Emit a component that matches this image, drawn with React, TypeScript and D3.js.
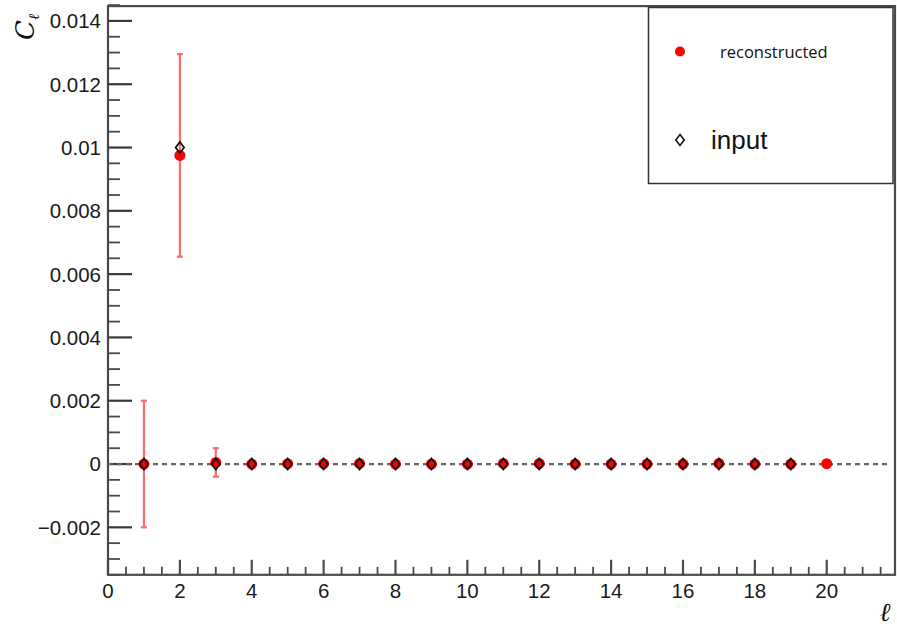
import React from "react";
import * as d3 from "d3";

const ells = [1, 2, 3, 4, 5, 6, 7, 8, 9, 10, 11, 12, 13, 14, 15, 16, 17, 18, 19, 20];
const recoValues = [0, 0.00975, 0.00005, 0, 0.00001, 0.00001, 0.00002, 0, 0, 0, 0.00002, 0.00002, 0, 0, 0, 0, 0.00002, 0, 0, 0.00001];
const recoErrors = [0.002, 0.0032, 0.00045, 0, 0, 0, 0, 0, 0, 0, 0, 0, 0, 0, 0, 0, 0, 0, 0, 0];
const inputEll = [1, 2, 3, 4, 5, 6, 7, 8, 9, 10, 11, 12, 13, 14, 15, 16, 17, 18, 19];
const inputValues = [0, 0.01, 0, 0, 0, 0, 0, 0, 0, 0, 0, 0, 0, 0, 0, 0, 0, 0, 0];
const xMajorTicks = [0, 2, 4, 6, 8, 10, 12, 14, 16, 18, 20];
const yMajorTicks = [-0.002, 0, 0.002, 0.004, 0.006, 0.008, 0.01, 0.012, 0.014];
const yTickLabels = ["\u22120.002", "0", "0.002", "0.004", "0.006", "0.008", "0.01", "0.012", "0.014"];
const legendLabels = ["reconstructed", "input"];

const W = 897;
const H = 629;
const L = 108;
const R = 895;
const T = 5.1;
const B = 574.8;

export default function App() {
  const x = d3.scaleLinear().domain([0, 21.9]).range([L, R]);
  const y = d3.scaleLinear().domain([-0.0035, 0.0145]).range([B, T]);

  const xMinor = d3.range(0, 21.9, 0.5).filter((v) => Math.abs(v % 2) > 1e-9);
  const yMinor = d3.range(-0.0035, 0.01451, 0.0005).filter(
    (v) => !yMajorTicks.some((m) => Math.abs(m - v) < 1e-9)
  );
  const axisColor = "#4a4a4a";
  const font = "'Liberation Sans', Arial, Helvetica, sans-serif";
  const errColor = "#ff6a6a";

  const diamond = (cx: number, cy: number) =>
    `M${cx},${cy - 5.5} L${cx + 4.2},${cy} L${cx},${cy + 5.5} L${cx - 4.2},${cy} Z`;

  return (
    <svg
      width={W}
      height={H}
      style={{ position: "absolute", left: 0, top: 0, background: "#fff" }}
    >
      <rect x={0} y={0} width={W} height={H} fill="#fff" />
      {/* frame */}
      <rect x={L} y={T + 1} width={R - L} height={B - T - 1} fill="none" stroke={axisColor} strokeWidth={2.2} />

      {/* y ticks */}
      {yMajorTicks.map((v) => (
        <line key={"ym" + v} x1={L} x2={L + 24} y1={y(v)} y2={y(v)} stroke="#3a3a3a" strokeWidth={2.2} />
      ))}
      {yMinor.map((v, i) => (
        <line key={"yn" + i} x1={L} x2={L + 12} y1={y(v)} y2={y(v)} stroke={axisColor} strokeWidth={1.8} />
      ))}
      {yMajorTicks.map((v, i) => (
        <text
          key={"yl" + v}
          x={101}
          y={y(v)}
          dy="0.36em"
          textAnchor="end"
          fontFamily={font}
          fontSize={20.5}
          fill="#1a1a1a"
        >
          {yTickLabels[i]}
        </text>
      ))}

      {/* x ticks */}
      {xMajorTicks.map((v) => (
        <line key={"xm" + v} x1={x(v)} x2={x(v)} y1={B} y2={B - 15} stroke={axisColor} strokeWidth={2.2} />
      ))}
      {xMinor.map((v, i) => (
        <line key={"xn" + i} x1={x(v)} x2={x(v)} y1={B} y2={B - 8} stroke={axisColor} strokeWidth={1.8} />
      ))}
      {xMajorTicks.map((v) => (
        <text
          key={"xl" + v}
          x={x(v)}
          y={598}
          textAnchor="middle"
          fontFamily={font}
          fontSize={20.5}
          fill="#1a1a1a"
        >
          {v}
        </text>
      ))}

      {/* axis titles */}
      <text
        transform="translate(34,40) rotate(-90)"
        fontFamily="'DejaVu Serif', serif"
        fontStyle="italic"
        fontSize={26}
        fill="#111"
      >
        C
        <tspan fontSize={15} dy={5}>
          ℓ
        </tspan>
      </text>
      <text
        x={885}
        y={621}
        textAnchor="middle"
        fontFamily="'DejaVu Serif', serif"
        fontStyle="italic"
        fontSize={26}
        fill="#111"
      >
        ℓ
      </text>

      {/* zero line */}
      <line
        x1={L}
        x2={889}
        y1={y(0)}
        y2={y(0)}
        stroke="#666"
        strokeWidth={2.2}
        strokeDasharray="5,4"
      />

      {/* error bars */}
      {ells.map((l, i) =>
        recoErrors[i] > 0 ? (
          <g key={"e" + l}>
            <line
              x1={x(l)}
              x2={x(l)}
              y1={y(recoValues[i] - recoErrors[i])}
              y2={y(recoValues[i] + recoErrors[i])}
              stroke={errColor}
              strokeWidth={2.2}
            />
            <line
              x1={x(l) - 3}
              x2={x(l) + 3}
              y1={y(recoValues[i] - recoErrors[i])}
              y2={y(recoValues[i] - recoErrors[i])}
              stroke={errColor}
              strokeWidth={2.2}
            />
            <line
              x1={x(l) - 3}
              x2={x(l) + 3}
              y1={y(recoValues[i] + recoErrors[i])}
              y2={y(recoValues[i] + recoErrors[i])}
              stroke={errColor}
              strokeWidth={2.2}
            />
          </g>
        ) : null
      )}

      {/* reconstructed points */}
      {ells.map((l, i) => (
        <circle key={"r" + l} cx={x(l)} cy={y(recoValues[i])} r={5.5} fill="#ff0000" />
      ))}

      {/* input points */}
      {inputEll.map((l, i) => (
        <path key={"in" + l} d={diamond(x(l), y(inputValues[i]))} fill="none" stroke="#111" strokeWidth={1.8} />
      ))}

      {/* legend */}
      <rect x={648.5} y={7.5} width={244.5} height={176} fill="#fff" stroke="#333" strokeWidth={1.5} />
      <circle cx={680} cy={51.5} r={5} fill="#ff0000" />
      <text x={720} y={57.5} fontFamily="'Open Sans', 'Noto Sans', sans-serif" fontSize={16.5} fill="#111">
        {legendLabels[0]}
      </text>
      <path d={diamond(680, 140)} fill="none" stroke="#111" strokeWidth={1.6} />
      <text x={711} y={148.5} fontFamily={font} fontSize={26} fill="#111">
        {legendLabels[1]}
      </text>
    </svg>
  );
}
